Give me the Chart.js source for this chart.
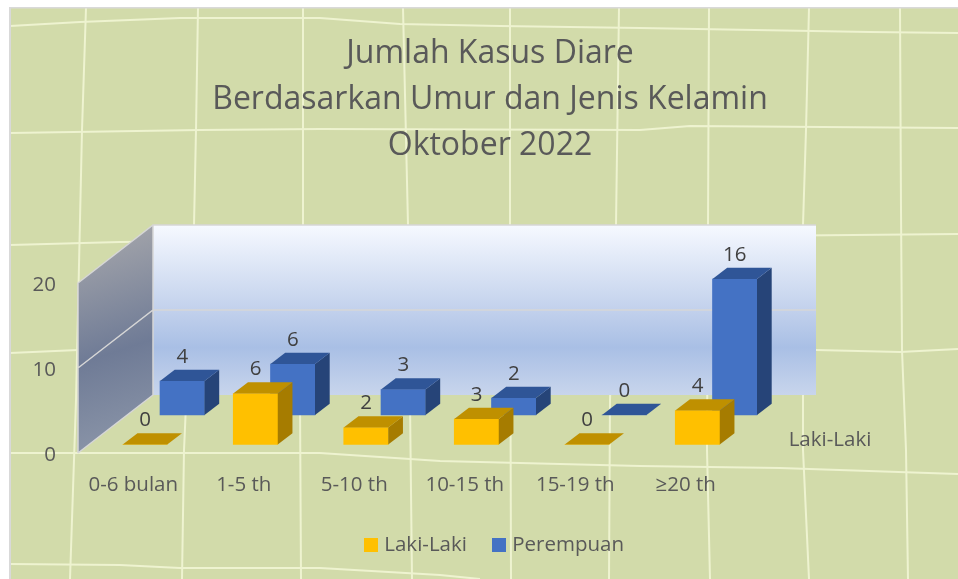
<!DOCTYPE html>
<html><head><meta charset="utf-8">
<style>html,body{margin:0;padding:0;background:#fff}#w{width:958px;height:579px}</style>
<script src="https://cdn.jsdelivr.net/npm/chart.js@4"></script>
</head><body><div id="w"><canvas id="c" width="958" height="579"></canvas></div>
<script>
const categories = ['0-6 bulan','1-5 th','5-10 th','10-15 th','15-19 th','≥20 th'];
const lakiLaki = [0,6,2,3,0,4];
const perempuan = [4,6,3,2,0,16];
const titleLines = ['Jumlah Kasus Diare','Berdasarkan Umur dan Jenis Kelamin','Oktober 2022'];
const yTickStep = 10;
const yWallTop = 20;
const depthLabel = 'Laki-Laki';

const FONT = '"Open Sans"';
const SMALL = 20.5;
const TITLE = 32;
const TEXT = '#595959';
const COLORS = ['#ffc000','#4472c4'];
const DX = 14.7, DY = 11.3;          // bar depth
const WALL_DX = 75, WALL_DY = 58;    // wall depth
const UNIT = 8.5;                    // px per value
const STEP = 110.5;                  // px per category
// decorative paper texture
const hLines = [
 [[10,26],[80,22],[180,18],[320,18],[400,24],[500,26],[640,28],[870,32],[958,33]],
 [[10,133],[200,130],[320,129],[640,130],[690,126],[958,128]],
 [[10,245],[120,242],[958,234]],
 [[10,353],[78,350],[816,350],[900,352],[958,349]],
 [[10,453],[320,453],[440,461],[640,466],[780,468],[958,474]],
 [[10,564],[120,565],[180,568],[320,568],[440,575],[480,579]]
];
const vLines = [
 [[86,8],[82,130],[76,400],[70,579]],
 [[198,8],[196,130],[194,225],[184,450],[182,579]],
 [[303,8],[303,226],[300,400],[301,579]],
 [[403,8],[408,225],[412,579]],
 [[510,8],[510,225],[511,579]],
 [[619,8],[616,225],[610,400],[609,579]],
 [[709,8],[708,225],[707,450],[710,579]],
 [[809,8],[806,130],[803,225],[803,450],[809,579]],
 [[900,8],[901,210],[902,350],[906,450],[908,579]]
];
function poly(ctx,pts,fill){ctx.beginPath();pts.forEach((p,i)=>i?ctx.lineTo(p[0],p[1]):ctx.moveTo(p[0],p[1]));ctx.closePath();ctx.fillStyle=fill;ctx.fill();}
function swatch(color){const c=document.createElement('canvas');c.width=14;c.height=14;const x=c.getContext('2d');x.fillStyle=color;x.fillRect(0,0,14,14);return c;}

const scene = {
 id:'scene',
 afterLayout(chart){ chart.legend.left += 12; },
 beforeDraw(chart){
  const ctx=chart.ctx;ctx.save();
  ctx.fillStyle='#d2dbaa';ctx.fillRect(10,8,948,571);
  ctx.strokeStyle='#eef3d0';ctx.lineWidth=2;
  [...hLines,...vLines].forEach(l=>{ctx.beginPath();l.forEach((p,i)=>i?ctx.lineTo(p[0],p[1]):ctx.moveTo(p[0],p[1]));ctx.stroke();});
  ctx.fillStyle='#d9d9d9';ctx.fillRect(9,7,949,1.5);ctx.fillRect(9,7,2,572);
  ctx.restore();
 },
 beforeDatasetsDraw(chart){
  const ctx=chart.ctx,a=chart.chartArea,y=chart.scales.y;
  const L=a.left,R=a.right,y0=y.getPixelForValue(0),yT=y.getPixelForValue(yWallTop),yM=y.getPixelForValue(yTickStep);
  ctx.save();
  const g=ctx.createLinearGradient(0,yT-WALL_DY,0,y0-WALL_DY);
  g.addColorStop(0,'#f6f9ff');g.addColorStop(0.5,'#c2d1ec');g.addColorStop(0.72,'#a9bfe5');g.addColorStop(1,'#c8d5ec');
  ctx.fillStyle=g;ctx.fillRect(L+WALL_DX,yT-WALL_DY,R-L,y0-yT);
  const g2=ctx.createLinearGradient(L,yT-WALL_DY,L+WALL_DX,y0);
  g2.addColorStop(0,'#aaaaad');g2.addColorStop(0.55,'#6f7b96');g2.addColorStop(1,'#8f99ab');
  poly(ctx,[[L,y0],[L,yT],[L+WALL_DX,yT-WALL_DY],[L+WALL_DX,y0-WALL_DY]],g2);
  ctx.strokeStyle='#d6d6d6';ctx.lineWidth=1.5;
  ctx.beginPath();
  ctx.moveTo(L,y0);ctx.lineTo(L,yT);ctx.lineTo(L+WALL_DX,yT-WALL_DY);ctx.lineTo(R+WALL_DX,yT-WALL_DY);
  ctx.moveTo(L+WALL_DX,yT-WALL_DY);ctx.lineTo(L+WALL_DX,y0-WALL_DY);ctx.lineTo(L,y0);
  ctx.moveTo(L,yM);ctx.lineTo(L+WALL_DX,yM-WALL_DY);ctx.lineTo(R+WALL_DX,yM-WALL_DY);
  ctx.stroke();
  ctx.restore();
 },
 afterDatasetDraw(chart,args){
  const ctx=chart.ctx,ds=chart.data.datasets[args.index];
  chart.getDatasetMeta(args.index).data.forEach(b=>{
   const p=b.getProps(['x','y','base','width'],true);
   const l=p.x-p.width/2,r=p.x+p.width/2;
   if(p.base-p.y>0.5) poly(ctx,[[r,p.y],[r+DX,p.y-DY],[r+DX,p.base-DY],[r,p.base]],ds.sideColor);
   poly(ctx,[[l,p.y],[l+DX,p.y-DY],[r+DX,p.y-DY],[r,p.y]],ds.topColor);
  });
 },
 afterDatasetsDraw(chart){
  const ctx=chart.ctx;ctx.save();
  ctx.font=SMALL+'px '+FONT;ctx.textAlign='center';ctx.textBaseline='middle';ctx.fillStyle='#404040';
  chart.data.datasets.forEach((ds,i)=>{
   chart.getDatasetMeta(i).data.forEach((b,j)=>{
    const p=b.getProps(['x','y'],true);
    ctx.fillText(String(ds.data[j].y),p.x,p.y-24);
   });
  });
  ctx.fillStyle=TEXT;
  ctx.fillText(depthLabel,chart.chartArea.right+89,440.5);
  ctx.restore();
 }
};

const toPts = a => a.map((v,i)=>({x:i,y:v}));
new Chart(document.getElementById('c'),{
 type:'bar',
 plugins:[scene],
 data:{labels:categories,datasets:[
  {label:'Laki-Laki',data:toPts(lakiLaki),xAxisID:'xL',yAxisID:'yL',backgroundColor:COLORS[0],topColor:'#bf9000',sideColor:'#a67c00',barThickness:44.5,borderWidth:0,clip:false,grouped:false},
  {label:'Perempuan',data:toPts(perempuan),xAxisID:'xP',yAxisID:'yP',backgroundColor:COLORS[1],topColor:'#2f5597',sideColor:'#264478',barThickness:44.5,borderWidth:0,clip:false,grouped:false}
 ]},
 options:{
  responsive:false,animation:false,
  layout:{padding:{left:22,right:0,top:31.5,bottom:13.75}},
  plugins:{
   tooltip:{enabled:false},
   title:{display:true,text:titleLines,color:TEXT,font:{family:FONT,size:TITLE,weight:'normal',lineHeight:45.6/TITLE},padding:{top:0,bottom:57.7}},
   legend:{position:'bottom',labels:{color:TEXT,font:{family:FONT,size:SMALL},usePointStyle:true,pointStyleWidth:6,boxHeight:14,padding:29,
     generateLabels:chart=>Chart.defaults.plugins.legend.labels.generateLabels(chart).map((it,i)=>({...it,pointStyle:swatch(COLORS[i])}))}}
  },
  scales:{
   x:{type:'category',position:'bottom',labels:categories,grid:{display:false},border:{display:false},
      ticks:{color:TEXT,font:{family:FONT,size:SMALL},padding:12,maxRotation:0,autoSkip:false},
      afterFit(s){s.height=52.75;}},
   xL:{type:'linear',display:false,offset:false,grid:{offset:false},min:-0.5-11.75/STEP,max:5.5-11.75/STEP},
   xP:{type:'linear',display:false,offset:false,grid:{offset:false},min:-0.5-49/STEP,max:5.5-49/STEP},
   y:{type:'linear',position:'left',min:0,max:227/UNIT,grid:{display:false},border:{display:false},
      ticks:{stepSize:yTickStep,includeBounds:false,color:TEXT,font:{family:FONT,size:SMALL},padding:14,labelOffset:2.5},
      afterFit(s){s.width=56;}},
   yL:{type:'linear',display:false,min:-8.5/UNIT,max:(227-8.5)/UNIT},
   yP:{type:'linear',display:false,min:-38/UNIT,max:(227-38)/UNIT},
   r:{type:'linear',position:'right',axis:'y',grid:{display:false},border:{display:false},ticks:{display:false},afterFit(s){s.width=217;}}
  }
 }
});
</script></body></html>
